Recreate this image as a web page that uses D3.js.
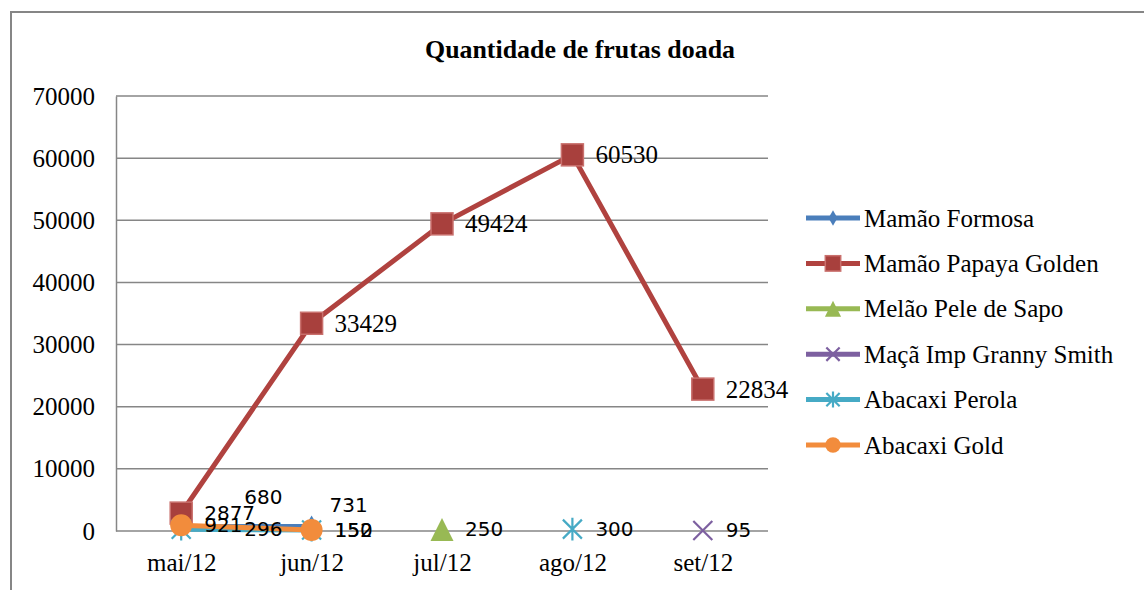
<!DOCTYPE html>
<html><head><meta charset="utf-8">
<script src="https://cdn.jsdelivr.net/npm/d3@7/dist/d3.min.js"></script>
<style>body{margin:0;background:#fff}svg{display:block}</style>
</head><body>
<svg id="c" width="1144" height="590"></svg>
<script>
const title = "Quantidade de frutas doada";
const categories = ["mai/12","jun/12","jul/12","ago/12","set/12"];
const yTicks = [0,10000,20000,30000,40000,50000,60000,70000];
const seriesNames = ["Mamão Formosa","Mamão Papaya Golden","Melão Pele de Sapo","Maçã Imp Granny Smith","Abacaxi Perola","Abacaxi Gold"];
const formosa = [680, 731, null, null, null];
const papaya  = [2877, 33429, 49424, 60530, 22834];
const melao   = [null, null, 250, null, null];
const maca    = [null, null, null, null, 95];
const perola  = [296, 150, null, 300, null];
const gold    = [921, 152, null, null, null];
const seriesValues = [formosa, papaya, melao, maca, perola, gold];

// styles
const colors = ["#4A7EBB","#B0423F","#98B954","#7D60A0","#46AAC5","#F28C3C"];
const markers = ["diamond","square","triangle","x","asterisk","circle"];
// manual label nudges (style only): key "series-index"
const labelNudge = {"0-0":[40,-30],"4-0":[40,0],"0-1":[-5,-21]};
const serifLabel = {"1-1":1,"1-2":1,"1-3":1,"1-4":1};

const svg = d3.select("#c");
const L=116,R=768,T=96,B=531;
const x = d3.scalePoint().domain(categories).range([L,R]).padding(0.5);
const y = d3.scaleLinear().domain([0,70000]).range([B,T]);

// outer border
svg.append("path").attr("d","M11,600 L11,12 L1150,12").attr("fill","none").attr("stroke","#868686").attr("stroke-width",2);

svg.append("text").attr("x",580).attr("y",49).attr("text-anchor","middle").attr("dominant-baseline","central")
  .attr("font-family","Liberation Serif").attr("font-weight","bold").attr("font-size",25)
  .attr("textLength",310).attr("lengthAdjust","spacingAndGlyphs").text(title);

// gridlines
const yAxis = d3.axisLeft(y).tickValues(yTicks).tickSize(0).tickPadding(21).tickFormat(d3.format("d"));
const gy = svg.append("g").attr("transform",`translate(${L},0)`).call(yAxis);
gy.select(".domain").attr("stroke","#868686").attr("stroke-width",1.5);
gy.selectAll("text").attr("font-family","Liberation Serif").attr("font-size",25).attr("fill","#000");
svg.append("g").selectAll("line").data(yTicks).join("line")
  .attr("x1",L).attr("x2",R).attr("y1",d=>y(d)).attr("y2",d=>y(d))
  .attr("stroke","#868686").attr("stroke-width",1.5);
const xAxis = d3.axisBottom(x).tickSize(0).tickPadding(22);
const gx = svg.append("g").attr("transform",`translate(0,${B})`).call(xAxis);
gx.select(".domain").remove();
gx.selectAll("text").attr("font-family","Liberation Serif").attr("font-size",25).attr("fill","#000");

function drawMarker(g, type, color, size){
  if(type==="diamond"){ g.append("path").attr("d",d3.symbol(d3.symbolDiamond,size*size*0.55)()).attr("fill",color); }
  else if(type==="square"){ g.append("rect").attr("x",-size/2).attr("y",-size/2).attr("width",size).attr("height",size).attr("fill","#A8403D").attr("stroke","#C9706D").attr("stroke-width",1.5); }
  else if(type==="triangle"){ const h=size; g.append("path").attr("d",`M0,${-h/2} L${h/2},${h/2} L${-h/2},${h/2} Z`).attr("fill",color); }
  else if(type==="x"){ const s=size/2; g.append("path").attr("d",`M${-s},${-s}L${s},${s}M${-s},${s}L${s},${-s}`).attr("stroke",color).attr("stroke-width",2.2); }
  else if(type==="asterisk"){ const s=size/2; g.append("path").attr("d",`M${-s},${-s}L${s},${s}M${-s},${s}L${s},${-s}M0,${-s*1.2}L0,${s*1.2}`).attr("stroke",color).attr("stroke-width",2.2); }
  else if(type==="circle"){ g.append("circle").attr("r",size/2).attr("fill",color); }
}
const markerSize=[16,22,23,19,19,22];

const line = d3.line().defined(d=>d.v!=null).x(d=>x(d.c)).y(d=>y(d.v));
seriesValues.forEach((vals,si)=>{
  const pts = vals.map((v,i)=>({c:categories[i],v}));
  svg.append("path").attr("d",line(pts)).attr("fill","none").attr("stroke",colors[si]).attr("stroke-width",5).attr("stroke-linejoin","round");
  pts.forEach(p=>{ if(p.v==null) return;
    const g=svg.append("g").attr("transform",`translate(${x(p.c)},${y(p.v)})`);
    drawMarker(g,markers[si],colors[si],markerSize[si]);
  });
});
// labels
seriesValues.forEach((vals,si)=>{
  vals.forEach((v,i)=>{ if(v==null) return;
    const k=si+"-"+i; const n=labelNudge[k]||[0,0];
    const serif=serifLabel[k];
    svg.append("text").attr("x",x(categories[i])+23+n[0]).attr("y",y(v)+n[1])
      .attr("dominant-baseline","central")
      .attr("font-family",serif?"Liberation Serif":"DejaVu Sans").attr("font-size",serif?25:20).attr("fill","#000")
      .text(v);
  });
});
// legend
const lg = svg.append("g");
seriesNames.forEach((name,si)=>{
  const yy = 218 + si*45.4;
  lg.append("line").attr("x1",806).attr("x2",860).attr("y1",yy).attr("y2",yy).attr("stroke",colors[si]).attr("stroke-width",5);
  const g=lg.append("g").attr("transform",`translate(833,${yy})`);
  drawMarker(g,markers[si],colors[si],markerSize[si]*0.7);
  lg.append("text").attr("x",864).attr("y",yy).attr("dominant-baseline","central")
    .attr("font-family","Liberation Serif").attr("font-size",25).attr("fill","#000").text(name);
});
</script>
</body></html>
